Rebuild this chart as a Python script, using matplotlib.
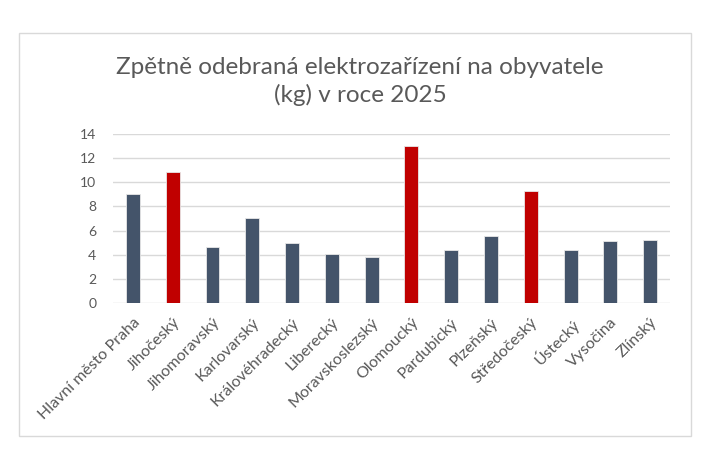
import numpy as np
import matplotlib.pyplot as plt
from matplotlib.patches import Rectangle

plt.rcParams['font.family'] = ['Lato', 'DejaVu Sans']

# data
kraje = ['Hlavní město Praha', 'Jihočeský', 'Jihomoravský', 'Karlovarský',
         'Královéhradecký', 'Liberecký', 'Moravskoslezský', 'Olomoucký',
         'Pardubický', 'Plzeňský', 'Středočeský', 'Ústecký', 'Vysočina', 'Zlínský']
hodnoty = [9.06, 10.88, 4.64, 7.07, 5.0, 4.03, 3.81,
           13.0, 4.42, 5.58, 9.28, 4.42, 5.11, 5.22]
zvyraznene = ['Jihočeský', 'Olomoucký', 'Středočeský']
y_ticks = [0, 2, 4, 6, 8, 10, 12, 14]

modra = '#44546A'
cervena = '#C00000'
seda = '#595959'

fig = plt.figure(figsize=(7.13, 4.66), dpi=100)
ax = fig.add_axes([0.1585, 0.3498, 0.7812, 0.3626])

barvy = [cervena if k in zvyraznene else modra for k in kraje]
x = np.arange(len(kraje))
ax.bar(x, hodnoty, width=0.35, color=barvy, edgecolor='#E8E8E8', linewidth=0.6, zorder=3)

ax.set_xlim(-0.5, len(kraje) - 0.5)
ax.set_ylim(0, 14)
ax.set_yticks(y_ticks)
ax.set_yticklabels([str(t) for t in y_ticks], fontsize=10, color=seda)
ax.set_xticks(x)
ax.set_xticklabels(kraje, rotation=45, ha='right', rotation_mode='anchor',
                   fontsize=11.5, color=seda)
ax.tick_params(length=0)
ax.tick_params(axis='y', pad=12)
ax.tick_params(axis='x', pad=9)
ax.grid(axis='y', color='#D9D9D9', linewidth=1, zorder=0)
for s in ax.spines.values():
    s.set_visible(False)

fig.text(0.505, 0.825, 'Zpětně odebraná elektrozařízení na obyvatele\n(kg) v roce 2025',
         ha='center', va='center', fontsize=17.5, color=seda, linespacing=1.3)

# rámeček grafu
fig.patches.append(Rectangle((19 / 713, 1 - 436 / 466), 672 / 713, 403 / 466,
                             transform=fig.transFigure, fill=False,
                             edgecolor='#D9D9D9', linewidth=1))

fig.savefig('out.png', dpi=100)
